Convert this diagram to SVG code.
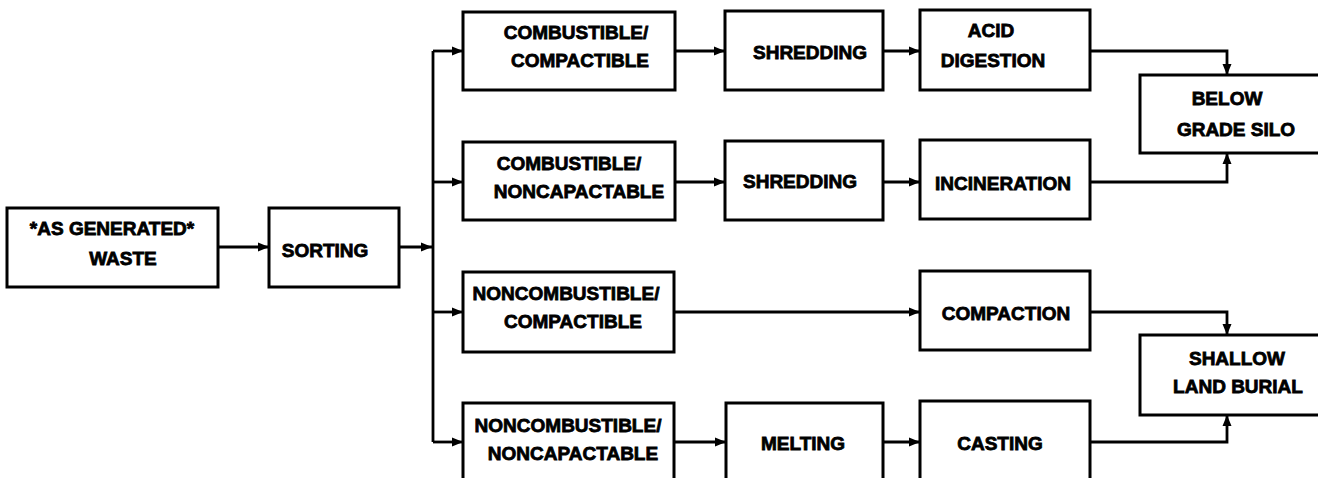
<svg xmlns="http://www.w3.org/2000/svg" width="1318" height="478" viewBox="0 0 1318 478">
  <style>
    .box { fill: #fff; stroke: #000; stroke-width: 3; }
    .lbl { font-family: "Liberation Sans", Arial, sans-serif; font-weight: bold; font-size: 19px; fill: #000; stroke: #000; stroke-width: 0.8; text-anchor: middle; }
    .wire { fill: none; stroke: #000; stroke-width: 2.8; }
    .arr { marker-end: url(#head); }
  </style>
  <defs>
    <marker id="head" markerUnits="userSpaceOnUse" markerWidth="11" markerHeight="10" refX="11" refY="5" orient="auto">
      <path d="M0,0.5 L11,5 L0,9.5 z" fill="#000"/>
    </marker>
  </defs>
  <rect width="1318" height="478" fill="#fff"/>

  <!-- connectors -->
  <g id="connectors">
    <path class="wire arr" d="M218,247 H269"/>
    <path class="wire arr" d="M399,247 H432"/>
    <path class="wire" d="M433,51 V442"/>
    <path class="wire arr" d="M433,51 H463"/>
    <path class="wire arr" d="M433,182 H463"/>
    <path class="wire arr" d="M433,312 H463"/>
    <path class="wire arr" d="M433,442 H463"/>
    <path class="wire arr" d="M675,51 H725"/>
    <path class="wire arr" d="M883,51 H920"/>
    <path class="wire arr" d="M675,182 H725"/>
    <path class="wire arr" d="M883,182 H920"/>
    <path class="wire arr" d="M674,312 H920"/>
    <path class="wire arr" d="M674,442 H726"/>
    <path class="wire arr" d="M883,442 H920"/>
    <path class="wire arr" d="M1090,51 H1227 V75"/>
    <path class="wire arr" d="M1090,182 H1227 V153"/>
    <path class="wire arr" d="M1090,312 H1227 V335"/>
    <path class="wire arr" d="M1090,442 H1227 V415"/>
  </g>

  <g id="waste">
    <rect class="box" x="7" y="208" width="211" height="79"/>
    <text class="lbl" x="112" y="235">*AS GENERATED*</text>
    <text class="lbl" x="123" y="265">WASTE</text>
  </g>
  <g id="sorting">
    <rect class="box" x="269" y="208" width="130" height="79"/>
    <text class="lbl" x="325" y="257">SORTING</text>
  </g>

  <g id="comb-compact">
    <rect class="box" x="463" y="12" width="212" height="78"/>
    <text class="lbl" x="576" y="39">COMBUSTIBLE/</text>
    <text class="lbl" x="580" y="67">COMPACTIBLE</text>
  </g>
  <g id="shred-1">
    <rect class="box" x="725" y="11" width="158" height="79"/>
    <text class="lbl" x="810" y="59">SHREDDING</text>
  </g>
  <g id="acid">
    <rect class="box" x="920" y="10" width="170" height="80"/>
    <text class="lbl" x="991" y="37">ACID</text>
    <text class="lbl" x="993" y="67">DIGESTION</text>
  </g>
  <g id="silo">
    <rect class="box" x="1140" y="75" width="180" height="78"/>
    <text class="lbl" x="1227" y="105">BELOW</text>
    <text class="lbl" x="1236" y="136">GRADE SILO</text>
  </g>

  <g id="comb-noncompact">
    <rect class="box" x="463" y="142" width="212" height="78"/>
    <text class="lbl" x="569" y="170">COMBUSTIBLE/</text>
    <text class="lbl" x="579" y="198">NONCAPACTABLE</text>
  </g>
  <g id="shred-2">
    <rect class="box" x="725" y="141" width="158" height="79"/>
    <text class="lbl" x="800" y="188">SHREDDING</text>
  </g>
  <g id="incineration">
    <rect class="box" x="920" y="140" width="170" height="79"/>
    <text class="lbl" x="1003" y="190">INCINERATION</text>
  </g>

  <g id="noncomb-compact">
    <rect class="box" x="463" y="272" width="211" height="80"/>
    <text class="lbl" x="566" y="300">NONCOMBUSTIBLE/</text>
    <text class="lbl" x="573" y="328">COMPACTIBLE</text>
  </g>
  <g id="compaction">
    <rect class="box" x="920" y="271" width="170" height="79"/>
    <text class="lbl" x="1006" y="320">COMPACTION</text>
  </g>
  <g id="burial">
    <rect class="box" x="1140" y="335" width="180" height="80"/>
    <text class="lbl" x="1237" y="365">SHALLOW</text>
    <text class="lbl" x="1238" y="393">LAND BURIAL</text>
  </g>

  <g id="noncomb-noncompact">
    <rect class="box" x="463" y="403" width="211" height="82"/>
    <text class="lbl" x="568" y="432">NONCOMBUSTIBLE/</text>
    <text class="lbl" x="573" y="460">NONCAPACTABLE</text>
  </g>
  <g id="melting">
    <rect class="box" x="726" y="403" width="157" height="82"/>
    <text class="lbl" x="803" y="450">MELTING</text>
  </g>
  <g id="casting">
    <rect class="box" x="920" y="401" width="170" height="84"/>
    <text class="lbl" x="1000" y="450">CASTING</text>
  </g>
</svg>
